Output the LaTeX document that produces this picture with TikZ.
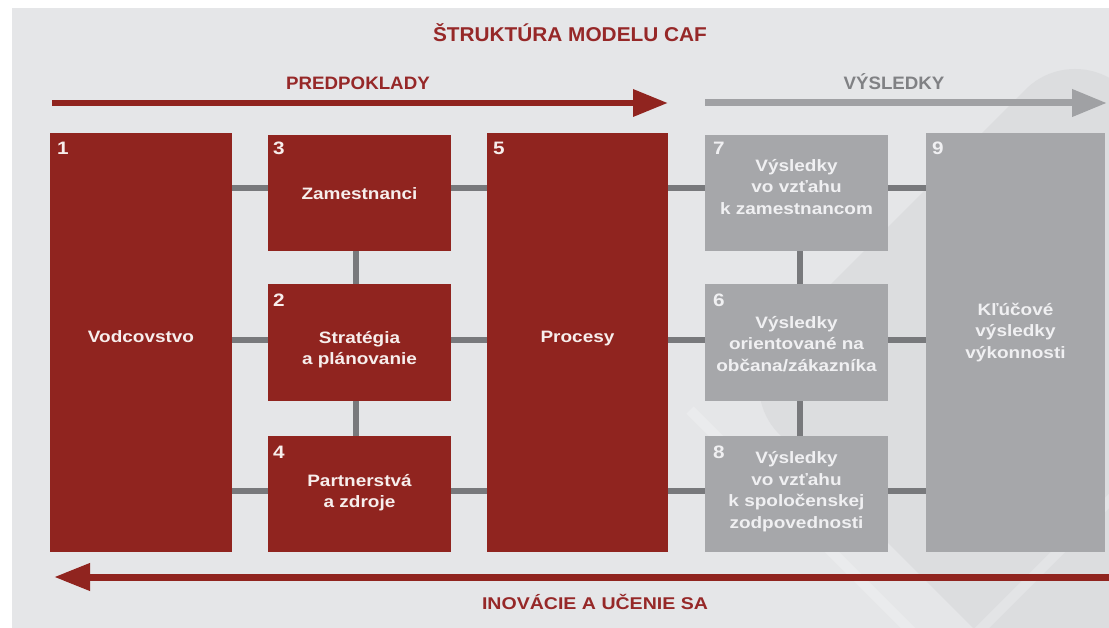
\documentclass[tikz,border=0pt]{standalone}
\usepackage{fontspec}
\setmainfont{Liberation Sans}
\newfontfamily\wideF{Liberation Sans}[FakeStretch=1.15]
\newfontfamily\headF{Liberation Sans}[FakeStretch=1.04]
\usetikzlibrary{arrows.meta}
\definecolor{bgc}{RGB}{229,230,232}
\definecolor{bgdark}{RGB}{220,221,223}
\definecolor{cafred}{RGB}{144,36,31}
\definecolor{cafgray}{RGB}{166,167,170}
\definecolor{conngray}{RGB}{120,121,124}
\definecolor{headred}{RGB}{150,40,40}
\definecolor{headgray}{RGB}{128,129,132}
\definecolor{arrgray}{RGB}{160,161,164}
\definecolor{redtxt}{RGB}{247,238,236}
\definecolor{graytxt}{RGB}{240,240,242}
\newcommand\Tst{\rule{0pt}{12pt}}
\newcommand\Bst{\rule[-4pt]{0pt}{4pt}}
\begin{document}
\begin{tikzpicture}[x=1pt,y=-1pt,
  redbox/.style={fill=cafred,draw=none,inner sep=0pt,anchor=north west},
  graybox/.style={fill=cafgray,draw=none,inner sep=0pt,anchor=north west},
  conn/.style={draw=conngray,line width=5.5pt},
  boxtxt/.style={font=\wideF\bfseries\fontsize{16.5}{21.5}\selectfont,align=center,inner sep=0pt,anchor=center},
  redtext/.style={boxtxt,text=redtxt},
  graytext/.style={boxtxt,text=graytxt},
  numtxt/.style={font=\wideF\bfseries\fontsize{18}{20}\selectfont,inner sep=0pt,anchor=base west},
  heading/.style={font=\headF\bfseries\fontsize{18}{20}\selectfont,inner sep=0pt,anchor=base}
]
\useasboundingbox (0,0) rectangle (1109,628);
\fill[white] (0,0) rectangle (1109,628);
\fill[bgc] (12,8) rectangle (1109,628);
\begin{scope}
  \clip (12,8) rectangle (1109,628);
  \fill[bgdark,rounded corners=70pt] (1075,40) -- (1420,385) -- (1075,730) -- (730,385) -- cycle;
  \draw[white,opacity=0.22,line width=10pt] (690,410) -- (945,665) -- (1200,410);
\end{scope}

% title and headings
\node[heading,font=\headF\bfseries\fontsize{20}{22}\selectfont,text=headred] (title) at (570,42) {ŠTRUKTÚRA MODELU CAF};
\node[heading,text=headred] (pred) at (358,90) {PREDPOKLADY};
\node[heading,text=headgray] (vys) at (894,90) {VÝSLEDKY};
\node[heading,font=\wideF\bfseries\fontsize{17}{20}\selectfont,text=headred] (inov) at (595,609) {INOVÁCIE A UČENIE SA};

% arrows
\coordinate (ra1) at (52,103);
\coordinate (ra2) at (668,103);
\coordinate (ga1) at (705,103);
\coordinate (ga2) at (1107,103);
\coordinate (ia1) at (1109,577);
\coordinate (ia2) at (54,577);
\draw[cafred,line width=6.5pt,-{Triangle[length=35pt,width=26pt]}] (ra1) -- (ra2);
\draw[arrgray,line width=7pt,-{Triangle[length=35pt,width=26pt]}] (ga1) -- (ga2);
\draw[cafred,line width=7pt,-{Triangle[length=36pt,width=26pt]}] (ia1) -- (ia2);

% boxes
\node[redbox,minimum width=182pt,minimum height=419pt] (b1) at (50,133) {};
\node[redbox,minimum width=183pt,minimum height=116pt] (b3) at (268,135) {};
\node[redbox,minimum width=183pt,minimum height=117pt] (b2) at (268,284) {};
\node[redbox,minimum width=183pt,minimum height=116pt] (b4) at (268,436) {};
\node[redbox,minimum width=181pt,minimum height=419pt] (b5) at (487,133) {};
\node[graybox,minimum width=183pt,minimum height=116pt] (b7) at (705,135) {};
\node[graybox,minimum width=183pt,minimum height=117pt] (b6) at (705,284) {};
\node[graybox,minimum width=183pt,minimum height=116pt] (b8) at (705,436) {};
\node[graybox,minimum width=179pt,minimum height=419pt] (b9) at (926,133) {};

% connectors
\draw[conn] ([yshift=5pt]b3.west -| b1.east) -- ([yshift=5pt]b3.west);
\draw[conn] ([yshift=2.5pt]b2.west -| b1.east) -- ([yshift=2.5pt]b2.west);
\draw[conn] ([yshift=3pt]b4.west -| b1.east) -- ([yshift=3pt]b4.west);
\draw[conn] ([yshift=5pt]b3.east) -- ([yshift=5pt]b3.east -| b5.west);
\draw[conn] ([yshift=2.5pt]b2.east) -- ([yshift=2.5pt]b2.east -| b5.west);
\draw[conn] ([yshift=3pt]b4.east) -- ([yshift=3pt]b4.east -| b5.west);
\draw[conn] ([yshift=5pt]b7.west -| b5.east) -- ([yshift=5pt]b7.west);
\draw[conn] ([yshift=2.5pt]b6.west -| b5.east) -- ([yshift=2.5pt]b6.west);
\draw[conn] ([yshift=3pt]b8.west -| b5.east) -- ([yshift=3pt]b8.west);
\draw[conn] ([yshift=5pt]b7.east) -- ([yshift=5pt]b7.east -| b9.west);
\draw[conn] ([yshift=2.5pt]b6.east) -- ([yshift=2.5pt]b6.east -| b9.west);
\draw[conn] ([yshift=3pt]b8.east) -- ([yshift=3pt]b8.east -| b9.west);
\draw[conn] ([xshift=-3.5pt]b3.south) -- ([xshift=-3.5pt]b2.north);
\draw[conn] ([xshift=-3.5pt]b2.south) -- ([xshift=-3.5pt]b4.north);
\draw[conn] ([xshift=3.5pt]b7.south) -- ([xshift=3.5pt]b6.north);
\draw[conn] ([xshift=3.5pt]b6.south) -- ([xshift=3.5pt]b8.north);

% numbers
\node[numtxt,text=redtxt] (n1) at ([xshift=7pt,yshift=-22pt]b1.north west) {1};
\node[numtxt,text=redtxt] (n3) at ([xshift=5pt,yshift=-20pt]b3.north west) {3};
\node[numtxt,text=redtxt] (n2) at ([xshift=5pt,yshift=-23pt]b2.north west) {2};
\node[numtxt,text=redtxt] (n4) at ([xshift=5pt,yshift=-22pt]b4.north west) {4};
\node[numtxt,text=redtxt] (n5) at ([xshift=6pt,yshift=-22pt]b5.north west) {5};
\node[numtxt,text=graytxt] (n7) at ([xshift=8pt,yshift=-20pt]b7.north west) {7};
\node[numtxt,text=graytxt] (n6) at ([xshift=8pt,yshift=-23pt]b6.north west) {6};
\node[numtxt,text=graytxt] (n8) at ([xshift=8pt,yshift=-22pt]b8.north west) {8};
\node[numtxt,text=graytxt] (n9) at ([xshift=6pt,yshift=-22pt]b9.north west) {9};

% box texts
\node[redtext] (t1) at (141,339) {\Tst Vodcovstvo\Bst};
\node[redtext] (t3) at (359.5,196) {\Tst Zamestnanci\Bst};
\node[redtext] (t2) at (359.5,350) {\Tst Stratégia\\a plánovanie\Bst};
\node[redtext] (t4) at (359.5,493) {\Tst Partnerstvá\\a zdroje\Bst};
\node[redtext] (t5) at (577.5,339) {\Tst Procesy\Bst};
\node[graytext] (t7) at (796.5,188.5) {\Tst Výsledky\\vo vzťahu\\k zamestnancom\Bst};
\node[graytext] (t6) at (796.5,345.5) {\Tst Výsledky\\orientované na\\občana/zákazníka\Bst};
\node[graytext] (t8) at (796.5,492) {\Tst Výsledky\\vo vzťahu\\k spoločenskej\\zodpovednosti\Bst};
\node[graytext] (t9) at (1015.5,332.5) {\Tst Kľúčové\\výsledky\\výkonnosti\Bst};
\end{tikzpicture}
\end{document}
